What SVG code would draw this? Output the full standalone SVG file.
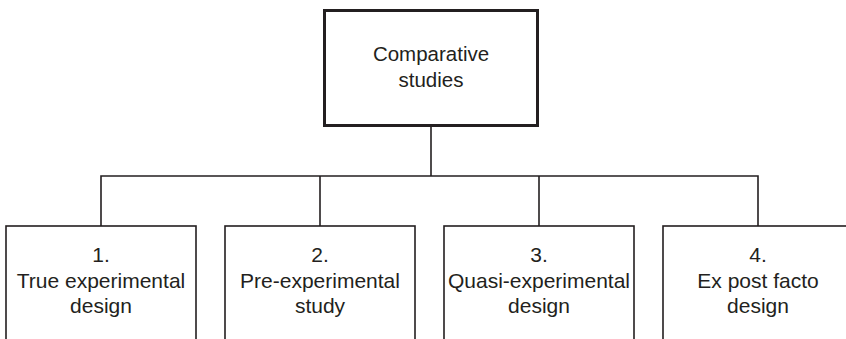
<svg xmlns="http://www.w3.org/2000/svg" width="846" height="339" viewBox="0 0 846 339">
  <style>
    .box { fill: #ffffff; stroke: #231f20; stroke-width: 1.6; }
    .root { stroke-width: 3; }
    .wire { fill: none; stroke: #231f20; stroke-width: 1.6; }
    text { font-family: "Liberation Sans", Arial, sans-serif; font-size: 21px; fill: #231f20; text-anchor: middle; }
    .title { font-size: 20.5px; }
  </style>
  <rect width="846" height="339" fill="#ffffff"/>

  <g id="connectors">
    <line class="wire" x1="431" y1="126" x2="431" y2="176"/>
    <polyline class="wire" points="101,226 101,176 758,176 758,226"/>
    <line class="wire" x1="320" y1="176" x2="320" y2="226"/>
    <line class="wire" x1="539" y1="176" x2="539" y2="226"/>
  </g>

  <g id="comparative-studies">
    <rect class="box root" x="324.5" y="10.5" width="213" height="115"/>
    <text class="title" x="431" y="61">Comparative</text>
    <text class="title" x="431" y="87">studies</text>
  </g>

  <g id="true-experimental">
    <rect class="box" x="6" y="226" width="190" height="130"/>
    <text x="101" y="262">1.</text>
    <text x="101" y="288">True experimental</text>
    <text x="101" y="313">design</text>
  </g>

  <g id="pre-experimental">
    <rect class="box" x="225" y="226" width="190" height="130"/>
    <text x="320" y="262">2.</text>
    <text x="320" y="288">Pre-experimental</text>
    <text x="320" y="313">study</text>
  </g>

  <g id="quasi-experimental">
    <rect class="box" x="444" y="226" width="190" height="130"/>
    <text x="539" y="262">3.</text>
    <text x="539" y="288">Quasi-experimental</text>
    <text x="539" y="313">design</text>
  </g>

  <g id="ex-post-facto">
    <rect class="box" x="663" y="226" width="190" height="130"/>
    <text x="758" y="262">4.</text>
    <text x="758" y="288">Ex post facto</text>
    <text x="758" y="313">design</text>
  </g>
</svg>
